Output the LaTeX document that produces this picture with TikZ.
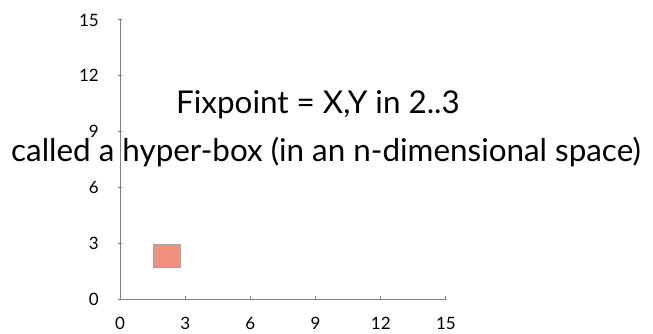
\documentclass[tikz,border=0pt]{standalone}
\usepackage{fontspec}
\setmainfont{Lato}
\definecolor{boxfill}{HTML}{F2907F}
\definecolor{axisgray}{HTML}{7F7F7F}
\begin{document}
\begin{tikzpicture}[x=1pt,y=-1pt,
  axisline/.style={draw=axisgray,line width=1pt},
  ticklbl/.style={font=\fontsize{17}{20}\selectfont,inner sep=0pt},
  bigtext/.style={font=\fontsize{31.4}{36}\selectfont,inner sep=0pt}]
\useasboundingbox (0,0) rectangle (653,334);
\coordinate (O) at (120,299);
\coordinate (Xend) at (446,299);
\coordinate (Yend) at (120,20);
\draw[axisline] (Yend) -- (O) -- (Xend);
\foreach \i in {0,3,...,15}{
  \pgfmathsetmacro{\xx}{120+\i*21.73}
  \pgfmathsetmacro{\yy}{299-\i*18.6}
  \draw[axisline] (\xx,299) -- (\xx,296);
  \draw[axisline] (118,\yy) -- (122,\yy);
  \node[ticklbl,anchor=center] (xl\i) at (\xx,323.5) {\i};
  \node[ticklbl,anchor=east] (yl\i) at (99,\yy) {\i};
}
\node[draw=gray!70,fill=boxfill,line width=1pt,minimum width=27.5pt,minimum height=23pt,inner sep=0pt] (box) at (167,255.5) {};
\node[bigtext] (title) at (318,105) {Fixpoint = X,Y in 2..3};
\node[bigtext] (sub) at (326,152) {called a hyper-box (in an n-dimensional space)};
\end{tikzpicture}
\end{document}
